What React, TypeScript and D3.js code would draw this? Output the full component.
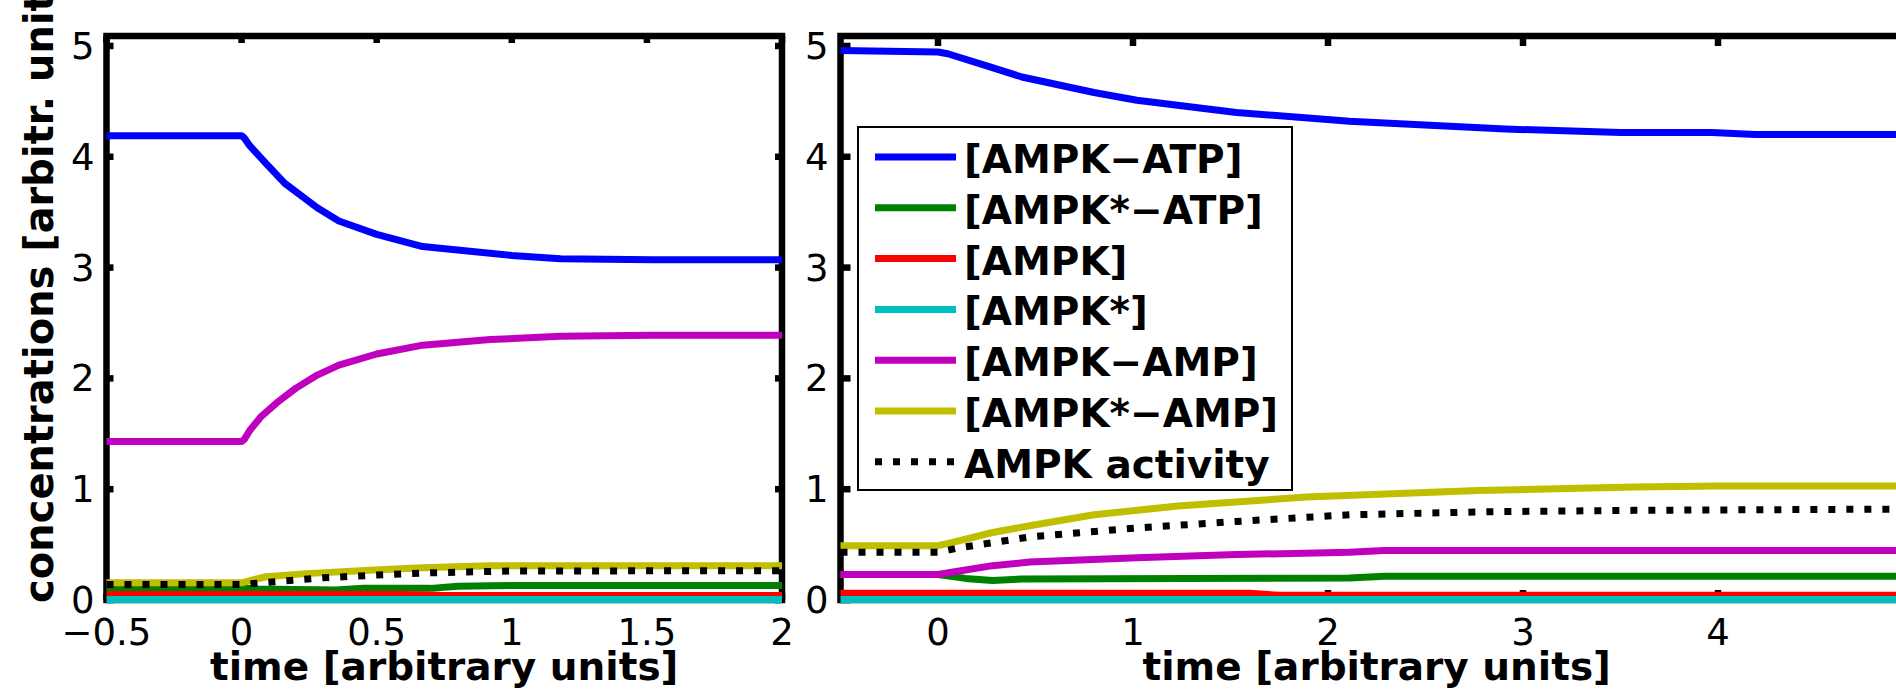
import React from "react";
import * as d3 from "d3";

type Pt = [number, number];

// ---- left panel (short window) ----
const leftAmpkAtp: Pt[] = [[-0.5, 4.19], [0, 4.19], [0.01, 4.17], [0.03, 4.1], [0.09, 3.94], [0.16, 3.76], [0.28, 3.54], [0.36, 3.42], [0.5, 3.3], [0.67, 3.19], [1.0, 3.11], [1.18, 3.08], [1.52, 3.07], [2, 3.07]];
const leftAmpkStarAtp: Pt[] = [[-0.5, 0.11], [0, 0.11], [0.05, 0.1], [0.35, 0.09], [0.45, 0.105], [0.7, 0.105], [0.8, 0.125], [1.0, 0.13], [2, 0.13]];
const leftAmpk: Pt[] = [[-0.5, 0.05], [0.6, 0.05], [0.75, 0.04], [2, 0.04]];
const leftAmpkStar: Pt[] = [[-0.5, 0.005], [2, 0.005]];
const leftAmpkAmp: Pt[] = [[-0.5, 1.43], [0, 1.43], [0.01, 1.45], [0.03, 1.53], [0.07, 1.65], [0.13, 1.78], [0.2, 1.91], [0.28, 2.03], [0.36, 2.12], [0.5, 2.22], [0.67, 2.3], [0.92, 2.35], [1.18, 2.38], [1.52, 2.39], [2, 2.39]];
const leftAmpkStarAmp: Pt[] = [[-0.5, 0.155], [0, 0.155], [0.09, 0.21], [0.24, 0.238], [0.49, 0.27], [0.67, 0.29], [0.92, 0.31], [2, 0.31]];
const leftActivity: Pt[] = [[-0.5, 0.14], [0, 0.14], [0.1, 0.16], [0.3, 0.2], [0.5, 0.225], [0.7, 0.245], [1.0, 0.262], [2, 0.264]];

// ---- right panel (long window) ----
const rightAmpkAtp: Pt[] = [[-0.5, 4.96], [0, 4.945], [0.05, 4.93], [0.25, 4.82], [0.43, 4.72], [0.8, 4.58], [1.02, 4.51], [1.53, 4.4], [2.11, 4.32], [2.91, 4.25], [3.5, 4.22], [3.97, 4.22], [4.19, 4.2], [5, 4.2]];
const rightAmpkStarAtp: Pt[] = [[-0.5, 0.23], [0, 0.23], [0.14, 0.195], [0.28, 0.175], [0.43, 0.19], [2.11, 0.198], [2.29, 0.215], [5, 0.215]];
const rightAmpk: Pt[] = [[-0.5, 0.06], [1.6, 0.06], [1.75, 0.042], [5, 0.042]];
const rightAmpkStar: Pt[] = [[-0.5, 0.005], [5, 0.005]];
const rightAmpkAmp: Pt[] = [[-0.5, 0.23], [0, 0.23], [0.07, 0.251], [0.28, 0.31], [0.47, 0.342], [1.02, 0.382], [1.53, 0.41], [2.11, 0.43], [2.29, 0.446], [5, 0.446]];
const rightAmpkStarAmp: Pt[] = [[-0.5, 0.49], [0, 0.49], [0.07, 0.518], [0.28, 0.609], [0.47, 0.67], [0.8, 0.769], [1.23, 0.848], [1.89, 0.929], [2.77, 0.988], [3.57, 1.02], [4.0, 1.028], [5, 1.028]];
const rightActivity: Pt[] = [[-0.5, 0.43], [0, 0.43], [0.1, 0.469], [0.47, 0.569], [1.02, 0.65], [1.53, 0.709], [2.11, 0.769], [2.84, 0.797], [3.57, 0.809], [5, 0.821]];

const seriesNames = ["[AMPK\u2212ATP]", "[AMPK*\u2212ATP]", "[AMPK]", "[AMPK*]", "[AMPK\u2212AMP]", "[AMPK*\u2212AMP]", "AMPK activity"];
const seriesColors = ["#0000ff", "#008000", "#ff0000", "#00bfbf", "#bf00bf", "#bfbf00", "#000000"];
const seriesDashed = [false, false, false, false, false, false, true];

const leftData = [leftAmpkAtp, leftAmpkStarAtp, leftAmpk, leftAmpkStar, leftAmpkAmp, leftAmpkStarAmp, leftActivity];
const rightData = [rightAmpkAtp, rightAmpkStarAtp, rightAmpk, rightAmpkStar, rightAmpkAmp, rightAmpkStarAmp, rightActivity];

const leftXTicks = [-0.5, 0, 0.5, 1, 1.5, 2];
const rightXTicks = [0, 1, 2, 3, 4, 5];
const yTicks = [0, 1, 2, 3, 4, 5];

const W = 1896;
const H = 693;
const FONT = "'DejaVu Sans', sans-serif";
const yTop = 5.09;

const fmt = (v: number) => (v < 0 ? "\u2212" + Math.abs(v) : String(v));

const Panel = ({ data, xDomain, xRange, xTicks, tickLen, showLegend }) => {
  const x = d3.scaleLinear().domain(xDomain).range(xRange);
  const y = d3.scaleLinear().domain([0, yTop]).range([600, 36]);
  const line = d3.line<Pt>().x((d) => x(d[0])).y((d) => y(d[1]));
  const x0 = x(xDomain[0]);
  const x1 = x(xDomain[1]);
  const y0 = y(0);
  const y1 = y(yTop);
  const lw = 6.5;

  return (
    <g>
      {/* axes box */}
      <rect x={x0} y={y1} width={x1 - x0} height={y0 - y1} fill="none" stroke="#000" strokeWidth={lw} />
      {xTicks.map((t) => (
        <g key={"xt" + t}>
          <line x1={x(t)} x2={x(t)} y1={y0} y2={y0 - tickLen} stroke="#000" strokeWidth={lw} />
          <line x1={x(t)} x2={x(t)} y1={y1} y2={y1 + tickLen} stroke="#000" strokeWidth={lw} />
          {x(t) < W && (
            <text x={x(t)} y={645} textAnchor="middle" fontFamily={FONT} fontSize={37} fill="#000">
              {fmt(t)}
            </text>
          )}
        </g>
      ))}
      {yTicks.map((t) => (
        <g key={"yt" + t}>
          <line x1={x0} x2={x0 + tickLen} y1={y(t)} y2={y(t)} stroke="#000" strokeWidth={lw} />
          <line x1={x1} x2={x1 - tickLen} y1={y(t)} y2={y(t)} stroke="#000" strokeWidth={lw} />
          <text x={x0 - 12} y={y(t) + 13} textAnchor="end" fontFamily={FONT} fontSize={37} fill="#000">
            {t}
          </text>
        </g>
      ))}
      {/* data lines */}
      {data.map((d, i) => (
        <path
          key={"s" + i}
          d={line(d)}
          fill="none"
          stroke={seriesColors[i]}
          strokeWidth={7}
          strokeLinejoin="round"
          strokeDasharray={seriesDashed[i] ? "7 11" : undefined}
        />
      ))}
      <text x={(x0 + x1) / 2} y={680} textAnchor="middle" fontFamily={FONT} fontWeight="bold" fontSize={39} fill="#000">
        time [arbitrary units]
      </text>
      {showLegend && (
        <g>
          <rect x={858} y={127} width={434} height={363} fill="#fff" stroke="#000" strokeWidth={2} />
          {seriesNames.map((name, i) => {
            const cy = 157 + i * 50.8;
            return (
              <g key={"lg" + i}>
                <line
                  x1={875}
                  x2={956}
                  y1={cy}
                  y2={cy}
                  stroke={seriesColors[i]}
                  strokeWidth={7}
                  strokeDasharray={seriesDashed[i] ? "7 11" : undefined}
                />
                <text x={964} y={cy + 16} fontFamily={FONT} fontWeight="bold" fontSize={39} fill="#000">
                  {name}
                </text>
              </g>
            );
          })}
        </g>
      )}
    </g>
  );
};

export default function App() {
  return (
    <svg
      width={W}
      height={H}
      style={{ position: "absolute", left: 0, top: 0, background: "#fff" }}
    >
      <rect width={W} height={H} fill="#fff" />
      <Panel data={leftData} xDomain={[-0.5, 2]} xRange={[106.5, 782]} xTicks={leftXTicks} tickLen={7} showLegend={false} />
      <Panel data={rightData} xDomain={[-0.5, 5]} xRange={[840.5, 1913]} xTicks={rightXTicks} tickLen={10} showLegend={true} />
      <text
        transform="translate(53,603) rotate(-90)"
        fontFamily={FONT}
        fontWeight="bold"
        fontSize={40}
        fill="#000"
      >
        concentrations [arbitr. units]
      </text>
    </svg>
  );
}
